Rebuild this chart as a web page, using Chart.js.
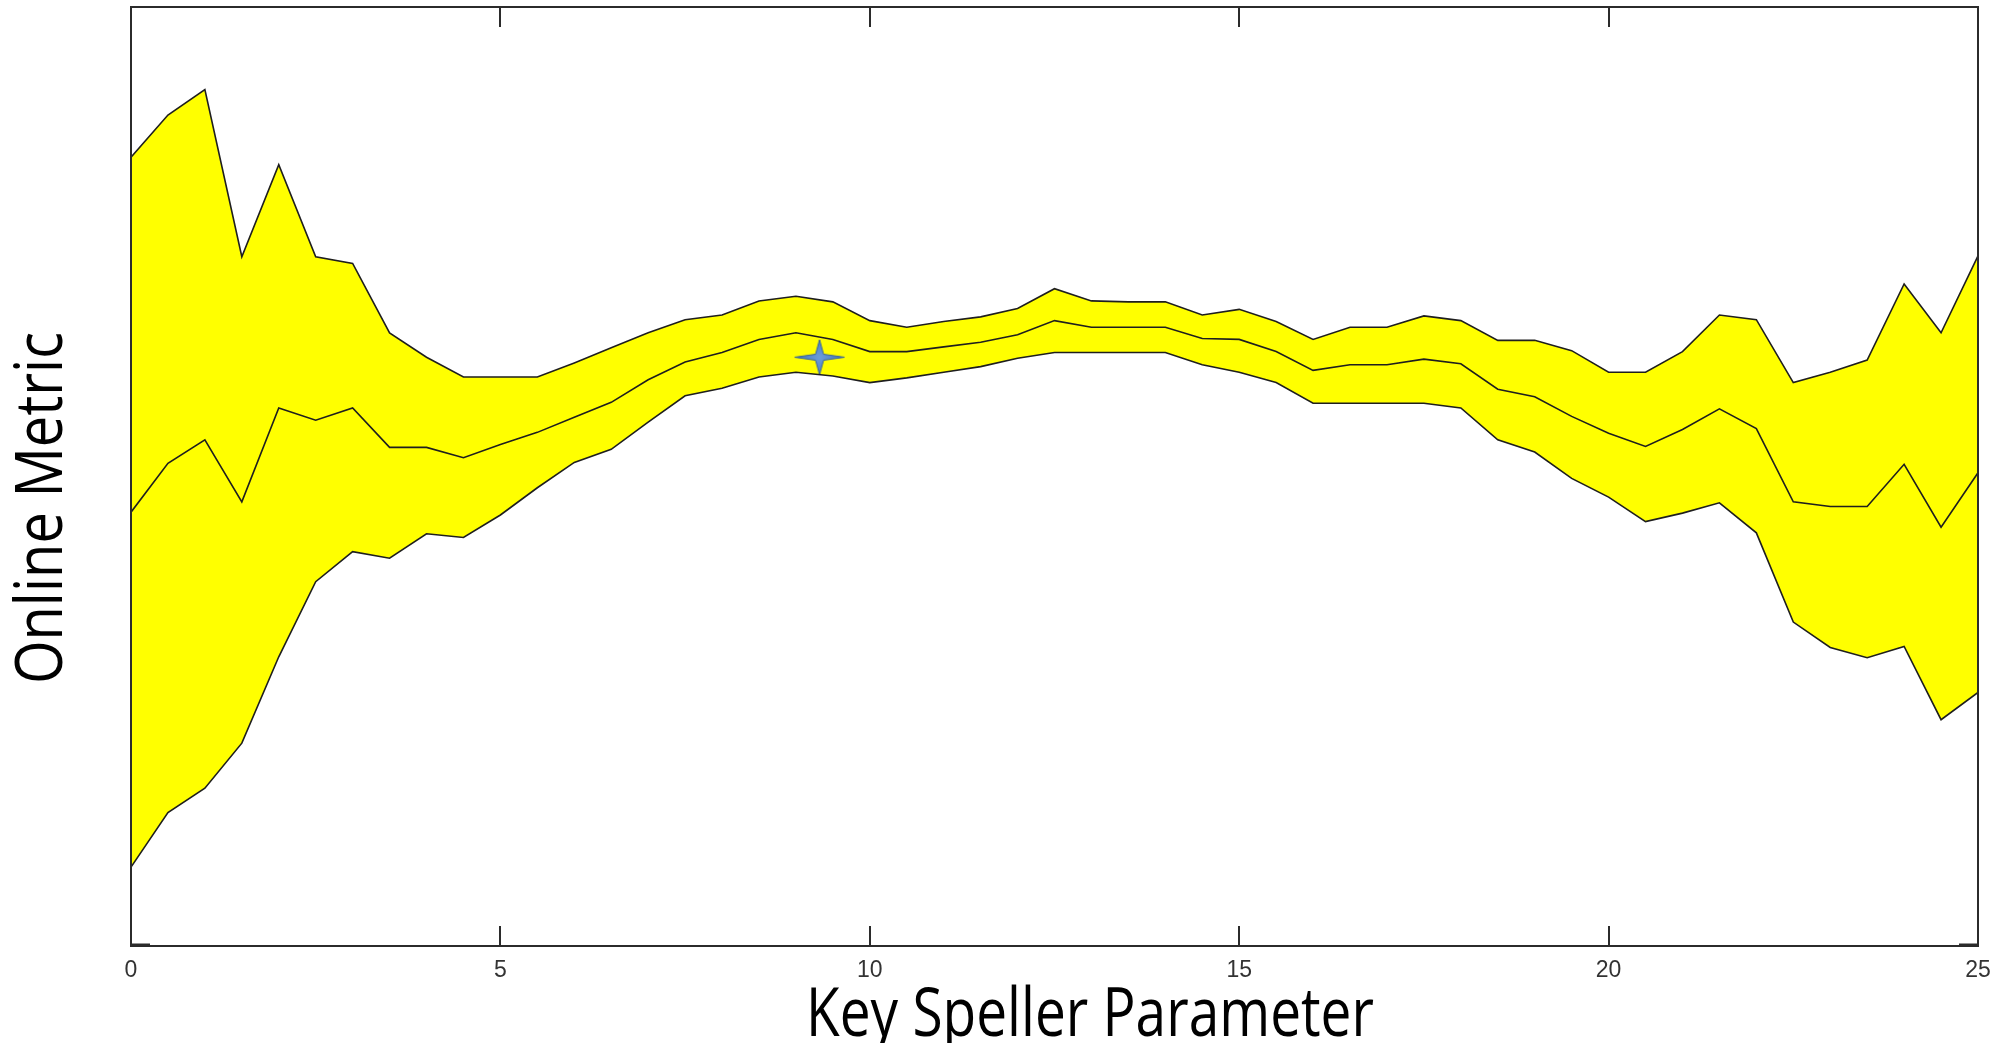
<!DOCTYPE html>
<html>
<head>
<meta charset="utf-8">
<title>Online Metric vs Key Speller Parameter</title>
<script src="https://cdn.jsdelivr.net/npm/chart.js@4/dist/chart.umd.min.js"></script>
<style>
  html, body { margin: 0; padding: 0; background: #ffffff; }
  #myChart { display: block; }
</style>
</head>
<body>
<canvas id="myChart" width="2000" height="1043"></canvas>
<script>
// parameter sweep and the band of the online metric around its mean
var keySpellerParam = [0, 0.5, 1, 1.5, 2, 2.5, 3, 3.5, 4, 4.5, 5, 5.5, 6, 6.5, 7, 7.5, 8, 8.5, 9, 9.5,
    10, 10.5, 11, 11.5, 12, 12.5, 13, 13.5, 14, 14.5, 15, 15.5, 16, 16.5, 17, 17.5, 18, 18.5, 19, 19.5,
    20, 20.5, 21, 21.5, 22, 22.5, 23, 23.5, 24, 24.5, 25];

var upperBound = [84.0, 88.5, 91.2, 73.4, 83.2, 73.4, 72.7, 65.3, 62.7, 60.6, 60.6, 60.6, 62.1, 63.7, 65.3, 66.7, 67.2, 68.7, 69.2, 68.6,
    66.6, 65.9, 66.5, 67.0, 67.9, 70.0, 68.7, 68.6, 68.6, 67.2, 67.8, 66.5, 64.6, 65.9, 65.9, 67.1, 66.6, 64.5, 64.5, 63.4,
    61.1, 61.1, 63.3, 67.2, 66.7, 60.0, 61.1, 62.4, 70.5, 65.3, 73.5];

var meanMetric = [46.2, 51.4, 53.9, 47.3, 57.3, 56.0, 57.3, 53.1, 53.1, 52.0, 53.4, 54.7, 56.3, 57.9, 60.3, 62.2, 63.2, 64.6, 65.3, 64.6,
    63.3, 63.3, 63.8, 64.3, 65.1, 66.6, 65.9, 65.9, 65.9, 64.7, 64.6, 63.3, 61.3, 61.9, 61.9, 62.5, 62.0, 59.3, 58.5, 56.4,
    54.6, 53.2, 55.0, 57.2, 55.1, 47.3, 46.8, 46.8, 51.3, 44.6, 50.4];

var lowerBound = [8.4, 14.2, 16.8, 21.6, 30.8, 38.8, 42.0, 41.3, 43.9, 43.5, 45.9, 48.8, 51.5, 52.9, 55.8, 58.6, 59.4, 60.6, 61.1, 60.7,
    60.0, 60.5, 61.1, 61.7, 62.6, 63.2, 63.2, 63.2, 63.2, 61.9, 61.1, 60.0, 57.8, 57.8, 57.8, 57.8, 57.3, 53.9, 52.6, 49.8,
    47.8, 45.2, 46.1, 47.2, 44.0, 34.5, 31.8, 30.7, 31.9, 24.1, 27.0];

// chosen operating point
var bestParam = [9.32];
var bestMetric = [62.7];

var xTitle = "Key Speller Parameter";
var yTitle = "Online Metric";

var ctx = document.getElementById("myChart").getContext("2d");

function toPoints(xs, ys) {
    return xs.map(function (x, i) {
        return { x: x, y: ys[i] };
    });
}

// four pointed star used as the marker of the best point
function makeStar(w, h) {
    var c = document.createElement("canvas");
    c.width = w;
    c.height = h;
    var g = c.getContext("2d");
    var cx = w / 2, cy = h / 2, kx = 4, ky = 3;
    g.beginPath();
    g.moveTo(1, cy);
    g.lineTo(cx - kx, cy - ky);
    g.lineTo(cx, 1);
    g.lineTo(cx + kx, cy - ky);
    g.lineTo(w - 1, cy);
    g.lineTo(cx + kx, cy + ky);
    g.lineTo(cx, h - 1);
    g.lineTo(cx - kx, cy + ky);
    g.closePath();
    var grad = g.createRadialGradient(cx, cy, 1, cx, cy, w / 2);
    grad.addColorStop(0, "#6a9bd8");
    grad.addColorStop(1, "#3f72b5");
    g.fillStyle = grad;
    g.fill();
    g.lineWidth = 1;
    g.strokeStyle = "#35609a";
    g.stroke();
    return c;
}

// box frame, inward ticks and the two axis titles
var frameAndTitles = {
    id: "frameAndTitles",
    afterDraw: function (chart) {
        var a = chart.chartArea;
        var xs = chart.scales.x;
        var g = chart.ctx;
        g.save();
        g.strokeStyle = "#2b2b2b";
        g.lineWidth = 2;
        g.strokeRect(a.left, a.top, a.right - a.left, a.bottom - a.top);

        xs.ticks.forEach(function (t) {
            var px = Math.round(xs.getPixelForValue(t.value));
            if (px <= a.left + 2 || px >= a.right - 2) return;
            g.beginPath();
            g.moveTo(px, a.bottom);
            g.lineTo(px, a.bottom - 20);
            g.moveTo(px, a.top);
            g.lineTo(px, a.top + 20);
            g.stroke();
        });

        var y0 = chart.scales.y.getPixelForValue(chart.scales.y.min);
        g.lineWidth = 3;
        g.beginPath();
        g.moveTo(a.left, y0 - 1);
        g.lineTo(a.left + 19, y0 - 1);
        g.moveTo(a.right, y0 - 1);
        g.lineTo(a.right - 19, y0 - 1);
        g.stroke();

        g.fillStyle = "#000000";
        g.font = "55px 'Open Sans'";
        g.textAlign = "center";
        g.textBaseline = "alphabetic";

        g.save();
        g.translate(1090, 1036);
        g.scale(1, 1.22);
        g.fillText(xTitle, 0, 0);
        g.restore();

        g.save();
        g.font = "56px 'Open Sans'";
        g.translate(62, 508);
        g.rotate(-Math.PI / 2);
        g.scale(1, 1.16);
        g.fillText(yTitle, 0, 0);
        g.restore();

        g.restore();
    }
};

var myChart = new Chart(ctx, {
    type: "line",
    data: {
        datasets: [
            {
                label: "upper",
                data: toPoints(keySpellerParam, upperBound),
                borderColor: "#1e1e1e",
                borderWidth: 1.6,
                backgroundColor: "#ffff00",
                fill: "+2",
                pointRadius: 0,
                tension: 0
            },
            {
                label: "mean",
                data: toPoints(keySpellerParam, meanMetric),
                borderColor: "#1e1e1e",
                borderWidth: 1.6,
                fill: false,
                pointRadius: 0,
                tension: 0
            },
            {
                label: "lower",
                data: toPoints(keySpellerParam, lowerBound),
                borderColor: "#1e1e1e",
                borderWidth: 1.6,
                fill: false,
                pointRadius: 0,
                tension: 0
            },
            {
                label: "best",
                data: toPoints(bestParam, bestMetric),
                showLine: false,
                pointStyle: makeStar(52, 37),
                pointRadius: 18,
                fill: false
            }
        ]
    },
    options: {
        responsive: false,
        animation: false,
        devicePixelRatio: 1,
        layout: {
            autoPadding: false,
            padding: { top: 7, right: 22, left: 0, bottom: 0 }
        },
        plugins: {
            legend: { display: false },
            tooltip: { enabled: false },
            filler: { drawTime: "beforeDatasetsDraw" }
        },
        scales: {
            x: {
                type: "linear",
                min: 0,
                max: 25,
                grid: { display: false },
                border: { display: false },
                ticks: {
                    stepSize: 5,
                    padding: 3,
                    color: "#333333",
                    maxRotation: 0,
                    font: { family: "'Liberation Sans'", size: 23 }
                },
                afterFit: function (scale) {
                    scale.height = 97;
                }
            },
            y: {
                min: 0,
                max: 100,
                grid: { display: false },
                border: { display: false },
                ticks: { display: false },
                afterFit: function (scale) {
                    scale.width = 131;
                }
            }
        }
    },
    plugins: [frameAndTitles]
});
</script>
</body>
</html>
